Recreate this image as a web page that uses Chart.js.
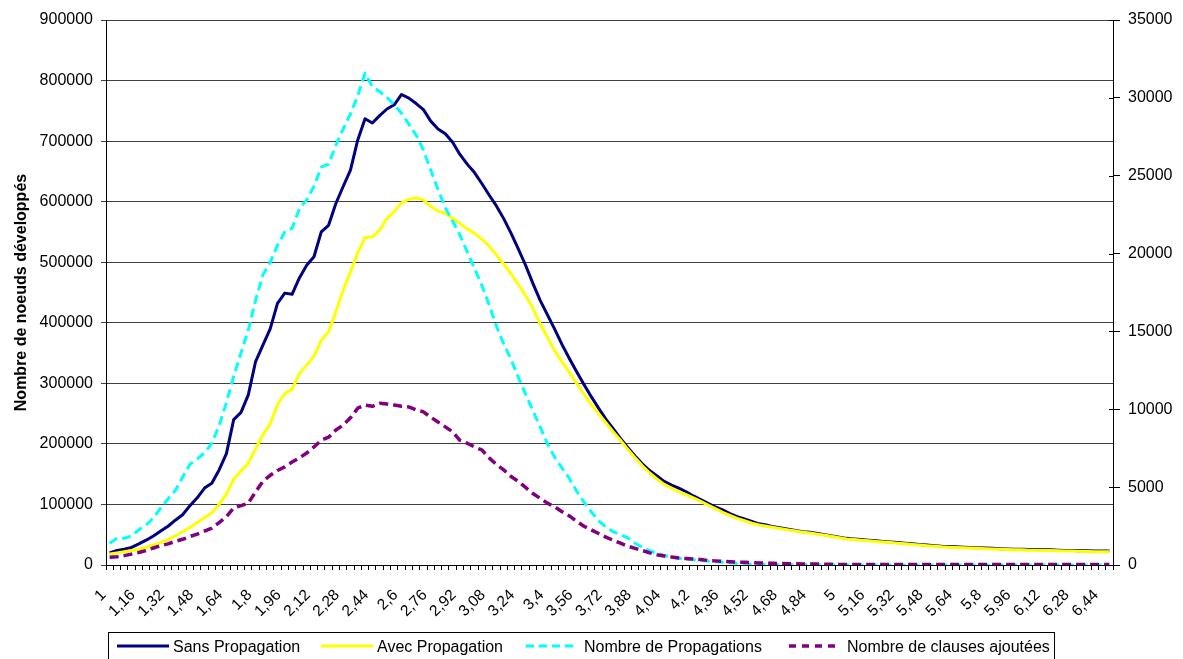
<!DOCTYPE html>
<html>
<head>
<meta charset="utf-8">
<title>Noeuds développés</title>
<script src="https://cdn.jsdelivr.net/npm/chart.js@4.4.1/dist/chart.umd.min.js"></script>
<style>
  html, body { margin: 0; padding: 0; background: #fff; overflow: hidden; }
  #wrap { position: relative; width: 1183px; height: 659px; }
  #legend {
    position: absolute; left: 108px; top: 632px; width: 947px; height: 32px;
    border: 1px solid #000; box-sizing: border-box;
    font: 16px "Liberation Sans", Arial, sans-serif; color: #000;
  }
  #legend .sample { position: absolute; top: 9px; }
  #legend .txt { position: absolute; top: 5px; white-space: nowrap; }
</style>
</head>
<body>
<div id="wrap">
  <canvas id="chart" width="1183" height="659"></canvas>
  <div id="legend"></div>
</div>
<script>
// x categories (step 0.04)
const xValues = [
  1, 1.04, 1.08, 1.12, 1.16, 1.2, 1.24, 1.28, 1.32, 1.36, 1.4, 1.44, 1.48, 1.52, 1.56, 1.6, 1.64, 1.68, 1.72, 1.76, 1.8, 1.84, 1.88, 1.92, 1.96,
  2, 2.04, 2.08, 2.12, 2.16, 2.2, 2.24, 2.28, 2.32, 2.36, 2.4, 2.44, 2.48, 2.52, 2.56, 2.6, 2.64, 2.68, 2.72, 2.76, 2.8, 2.84, 2.88, 2.92, 2.96,
  3, 3.04, 3.08, 3.12, 3.16, 3.2, 3.24, 3.28, 3.32, 3.36, 3.4, 3.44, 3.48, 3.52, 3.56, 3.6, 3.64, 3.68, 3.72, 3.76, 3.8, 3.84, 3.88, 3.92, 3.96,
  4, 4.04, 4.08, 4.12, 4.16, 4.2, 4.24, 4.28, 4.32, 4.36, 4.4, 4.44, 4.48, 4.52, 4.56, 4.6, 4.64, 4.68, 4.72, 4.76, 4.8, 4.84, 4.88, 4.92, 4.96,
  5, 5.04, 5.08, 5.12, 5.16, 5.2, 5.24, 5.28, 5.32, 5.36, 5.4, 5.44, 5.48, 5.52, 5.56, 5.6, 5.64, 5.68, 5.72, 5.76, 5.8, 5.84, 5.88, 5.92, 5.96,
  6, 6.04, 6.08, 6.12, 6.16, 6.2, 6.24, 6.28, 6.32, 6.36, 6.4, 6.44, 6.48
];
const xLabels = xValues.map(v => String(v).replace('.', ','));

// left axis series
const sansPropagation = [
  20000, 24000, 26000, 29000, 35000, 41000, 48000, 56000, 64000, 74000,
  83000, 98000, 111000, 127000, 135000, 157000, 184000, 240000, 252000, 281000,
  336000, 363000, 390000, 432000, 449000, 447000, 474000, 495000, 509000, 550000,
  561000, 597000, 625000, 652000, 702000, 737000, 730000, 742000, 753000, 760000,
  777000, 771000, 762000, 752000, 733000, 720000, 712000, 698000, 678000, 662000,
  648000, 630000, 611000, 593000, 572000, 548000, 522000, 495000, 465000, 437000,
  413000, 389000, 364000, 341000, 319000, 298000, 278000, 259000, 241000, 225000,
  209000, 194000, 180000, 167000, 156000, 147000, 138000, 132000, 127000, 121000,
  114000, 108000, 102000, 96000, 91000, 85000, 80000, 76000, 72000, 68000,
  66000, 63000, 61000, 59000, 57000, 55000, 54000, 52000, 50000, 48000,
  46000, 44000, 43000, 42000, 41000, 40000, 39000, 38000, 37000, 36000,
  35000, 34000, 33000, 32000, 31000, 30500, 30000, 29500, 29000, 28500,
  28000, 27500, 27000, 26500, 26000, 26000, 25500, 25500, 25000, 25000,
  24500, 24000, 24000, 23500, 23500, 23000, 23000, 23000
];
const avecPropagation = [
  18000, 20000, 22000, 24000, 26000, 29000, 33000, 37000, 42000, 48000,
  55000, 62000, 70000, 78000, 86000, 100000, 117000, 142000, 155000, 168000,
  192000, 215000, 233000, 265000, 283000, 290000, 316000, 330000, 345000, 371000,
  385000, 418000, 454000, 484000, 515000, 541000, 542000, 553000, 572000, 584000,
  598000, 604000, 606000, 603000, 592000, 584000, 581000, 572000, 564000, 555000,
  548000, 538000, 527000, 512000, 497000, 481000, 463000, 445000, 424000, 398000,
  376000, 354000, 335000, 318000, 300000, 282000, 265000, 250000, 235000, 220000,
  206000, 191000, 177000, 164000, 152000, 142000, 133000, 127000, 121000, 116000,
  111000, 105000, 99000, 93000, 87000, 82000, 77000, 73000, 69000, 66000,
  64000, 62000, 60000, 58000, 56000, 54000, 53000, 51000, 49000, 47000,
  45000, 43000, 42000, 41000, 40000, 39000, 38000, 37000, 36000, 35000,
  34000, 33000, 32000, 31000, 30000, 29500, 29000, 28500, 28000, 27500,
  27000, 26500, 26000, 25500, 25000, 25000, 24500, 24500, 24000, 24000,
  23500, 23000, 23000, 22500, 22500, 22000, 22000, 22000
];

// right axis series
const nbPropagations = [
  1390, 1710, 1710, 1870, 2260, 2570, 3030, 3660, 4240, 4780,
  5640, 6460, 6810, 7190, 7820, 8950, 10420, 12130, 13610, 15090,
  17000, 18630, 19440, 20530, 21390, 21620, 22870, 23450, 24310, 25550,
  25750, 26950, 28000, 28970, 30140, 31580, 30720, 30410, 30020, 29560,
  29010, 28310, 27610, 26640, 25360, 24110, 22950, 22090, 21200, 20110,
  19060, 17970, 16720, 15360, 14200, 13220, 12060, 10970, 9920, 8870,
  7780, 6920, 6220, 5560, 4740, 4040, 3420, 2840, 2450, 2140,
  1940, 1750, 1400, 1130, 930, 740, 620, 510, 430, 370,
  330, 290, 250, 210, 175, 140, 100, 60, 40, 30,
  25, 20, 18, 15, 12, 10, 8, 7, 6, 5,
  5, 4, 4, 3, 3, 3, 2, 2, 2, 2,
  2, 1, 1, 1, 1, 1, 1, 1, 1, 1,
  1, 1, 1, 1, 1, 1, 1, 1, 1, 1,
  1, 1, 1, 1, 1, 1, 1, 1
];
const nbClauses = [
  490, 525, 600, 700, 800, 930, 1090, 1240, 1360, 1520,
  1650, 1830, 1980, 2180, 2370, 2720, 3110, 3660, 3810, 3970,
  4700, 5370, 5760, 6070, 6300, 6610, 6880, 7190, 7580, 8010,
  8210, 8670, 8980, 9450, 10070, 10270, 10190, 10380, 10340, 10270,
  10190, 10150, 9960, 9840, 9490, 9180, 8870, 8560, 8010, 7820,
  7580, 7390, 6880, 6460, 6110, 5680, 5370, 4980, 4590, 4280,
  3970, 3730, 3420, 3150, 2800, 2490, 2260, 2020, 1790, 1590,
  1400, 1210, 1070, 930, 780, 660, 580, 510, 450, 410,
  380, 350, 290, 265, 235, 205, 185, 170, 150, 130,
  115, 110, 95, 80, 75, 70, 65, 60, 50, 45,
  40, 40, 40, 38, 38, 36, 36, 35, 35, 34,
  34, 33, 33, 32, 32, 31, 31, 30, 30, 30,
  30, 29, 29, 29, 28, 28, 28, 28, 27, 27,
  27, 27, 26, 26, 26, 26, 25, 25
];

const seriesNames = ['Sans Propagation', 'Avec Propagation', 'Nombre de Propagations', 'Nombre de clauses ajoutées'];

const FONT = '"Liberation Sans", Arial, sans-serif';
const tickFont = { family: FONT, size: 16 };
const plainNumber = v => String(v);  // no thousands separator

// short inward part of the right axis ticks (Excel draws them crossing the axis)
const crossTicks = {
  id: 'crossTicks',
  afterDraw(chart) {
    const s = chart.scales.y1;
    const ctx = chart.ctx;
    ctx.save();
    ctx.strokeStyle = '#000';
    ctx.lineWidth = 1;
    s.ticks.forEach((t, i) => {
      const y = Math.round(s.getPixelForTick(i)) + 0.5;
      ctx.beginPath();
      ctx.moveTo(s.left - 4, y);
      ctx.lineTo(s.left, y);
      ctx.stroke();
    });
    ctx.restore();
  }
};

const ctx = document.getElementById('chart').getContext('2d');
const chart = new Chart(ctx, {
  type: 'line',
  data: {
    labels: xLabels,
    datasets: [
      { label: seriesNames[0], data: sansPropagation, yAxisID: 'y', borderColor: '#000080', borderWidth: 3, order: 4 },
      { label: seriesNames[1], data: avecPropagation, yAxisID: 'y', borderColor: '#FFFF00', borderWidth: 3, order: 3 },
      { label: seriesNames[2], data: nbPropagations, yAxisID: 'y1', borderColor: '#00FFFF', borderWidth: 3, borderDash: [9, 5], order: 2 },
      { label: seriesNames[3], data: nbClauses, yAxisID: 'y1', borderColor: '#800080', borderWidth: 3.5, borderDash: [9, 5], order: 1 }
    ]
  },
  options: {
    responsive: false,
    animation: false,
    layout: { padding: { top: 20, left: 0, right: 0, bottom: 0 } },
    elements: {
      point: { radius: 0 },
      line: { tension: 0, fill: false, borderJoinStyle: 'round' }
    },
    plugins: { legend: { display: false }, tooltip: { enabled: false } },
    scales: {
      x: {
        offset: true,
        grid: { offset: true, drawOnChartArea: false, tickLength: 5, color: '#000' },
        border: { color: '#000' },
        ticks: {
          autoSkip: false, minRotation: 45, maxRotation: 45, padding: 16,
          font: { family: FONT, size: 15.5 }, color: '#000', labelOffset: -6,
          callback: (v, i) => (i % 4 === 0 ? xLabels[i] : '')
        },
        afterFit: s => { s.height = 94; }
      },
      y: {
        position: 'left',
        min: 0, max: 900000,
        ticks: { stepSize: 100000, font: tickFont, color: '#000', padding: 8, callback: plainNumber },
        grid: { color: '#404040', tickLength: 5 },
        border: { color: '#000' },
        title: {
          display: true, text: 'Nombre de noeuds développés', color: '#000',
          font: { family: FONT, size: 16, weight: 'bold' }, padding: { top: 12, bottom: 0 }
        },
        afterFit: s => { s.width = 106; }
      },
      y1: {
        position: 'right',
        min: 0, max: 35000,
        ticks: { stepSize: 5000, font: tickFont, color: '#000', padding: 8, callback: plainNumber },
        grid: { drawOnChartArea: false, tickLength: 7, color: '#000' },
        border: { color: '#000' },
        afterFit: s => { s.width = 70; }
      }
    }
  },
  plugins: [crossTicks]
});

// legend box below the chart
const legendItems = [
  { color: '#000080', dash: '', width: 3, sx: 8, tx: 64 },
  { color: '#FFFF00', dash: '', width: 3, sx: 212, tx: 268 },
  { color: '#00FFFF', dash: '8 5', width: 3, sx: 417, tx: 475 },
  { color: '#800080', dash: '7 6', width: 3.5, sx: 680, tx: 738 }
];
const legend = document.getElementById('legend');
legendItems.forEach((it, i) => {
  const svg = document.createElementNS('http://www.w3.org/2000/svg', 'svg');
  svg.setAttribute('class', 'sample');
  svg.setAttribute('width', '52');
  svg.setAttribute('height', '8');
  svg.style.left = it.sx + 'px';
  const line = document.createElementNS('http://www.w3.org/2000/svg', 'line');
  line.setAttribute('x1', '0'); line.setAttribute('x2', '52');
  line.setAttribute('y1', '4'); line.setAttribute('y2', '4');
  line.setAttribute('stroke', it.color);
  line.setAttribute('stroke-width', it.width);
  if (it.dash) line.setAttribute('stroke-dasharray', it.dash);
  svg.appendChild(line);
  legend.appendChild(svg);
  const span = document.createElement('span');
  span.className = 'txt';
  span.style.left = it.tx + 'px';
  span.textContent = seriesNames[i];
  legend.appendChild(span);
});
</script>
</body>
</html>
